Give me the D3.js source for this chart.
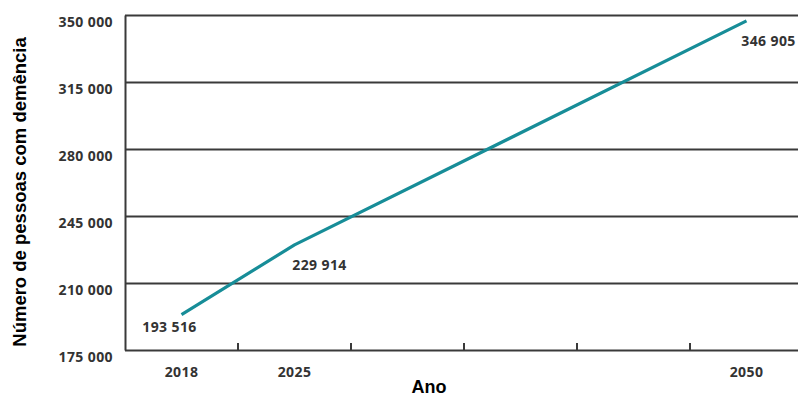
<!DOCTYPE html>
<html lang="pt">
<head>
<meta charset="utf-8">
<script src="https://cdn.jsdelivr.net/npm/d3@7"></script>
<style>
  html, body { margin: 0; padding: 0; background: #fff; }
  svg { display: block; }
  .tick-num { font-family: "Open Sans", sans-serif; font-weight: 700; font-size: 14px; letter-spacing: 0.4px; fill: #333; }
  .axis-title { font-family: "Liberation Sans", Arial, sans-serif; font-weight: 700; fill: #000; }
</style>
</head>
<body>
<svg id="chart" width="798" height="397"></svg>
<script>
// Projected number of people with dementia
const slots = ["2018", "2025", "", "", "", "2050"];   // x-axis slots; blank slots carry no label
const years = ["2018", "2025", "2050"];
const values = [193516, 229914, 346905];
const yTicks = [175000, 210000, 245000, 280000, 315000, 350000];

const W = 798, H = 397;
const margin = { top: 15, left: 125, bottom: 47 };
const plotRight = 803;          // last slot runs past the right edge
const svg = d3.select("#chart");

const fmt = d3.formatLocale({ decimal: ",", thousands: "\u202F", grouping: [3], currency: ["", ""] }).format(",");
const fmtNum = v => fmt(v).replace(/\u202F/g, " ");

const x = d3.scaleBand()
  .domain(d3.range(slots.length))
  .range([margin.left, plotRight])
  .paddingInner(0).paddingOuter(0);

const y = d3.scaleLinear()
  .domain([yTicks[0], yTicks[yTicks.length - 1]])
  .range([H - margin.bottom, margin.top]);

const gridColor = "#3a3a3a";

// horizontal gridlines (the lowest doubles as the x axis)
svg.append("g")
  .attr("transform", `translate(${margin.left},0)`)
  .call(d3.axisRight(y).tickValues(yTicks).tickSize(W - margin.left).tickFormat(""))
  .call(g => g.select(".domain").remove())
  .call(g => g.selectAll(".tick line").attr("stroke", gridColor).attr("stroke-width", 2));

// y axis line + labels
svg.append("g")
  .attr("transform", `translate(${margin.left},0)`)
  .call(d3.axisLeft(y).tickValues(yTicks).tickSize(0).tickPadding(12).tickFormat(fmtNum))
  .call(g => g.select(".domain").attr("stroke", gridColor).attr("stroke-width", 2))
  .call(g => g.selectAll(".tick text")
    .attr("class", "tick-num")
    .attr("dy", "0.8em")
    .attr("font-family", null).attr("font-size", null));

// x tick marks on the slot boundaries, pointing up into the plot
const xBottom = y(yTicks[0]);
svg.append("g")
  .selectAll("line")
  .data(d3.range(1, slots.length))
  .join("line")
  .attr("x1", d => x(d)).attr("x2", d => x(d))
  .attr("y1", xBottom).attr("y2", xBottom - 7)
  .attr("stroke", gridColor).attr("stroke-width", 2);

// x labels centred in their slots
svg.append("g")
  .attr("transform", `translate(0,${xBottom})`)
  .call(d3.axisBottom(x).tickSize(0).tickPadding(17).tickFormat(i => slots[i]))
  .call(g => g.select(".domain").remove())
  .call(g => g.selectAll(".tick text")
    .attr("class", "tick-num")
    .attr("font-family", null).attr("font-size", null));

// data line
const pts = years.map((yr, i) => ({ slot: slots.indexOf(yr), v: values[i] }));
const line = d3.line()
  .x(d => x(d.slot) + x.bandwidth() / 2)
  .y(d => y(d.v));

svg.append("path")
  .datum(pts)
  .attr("d", line)
  .attr("fill", "none")
  .attr("stroke", "#178d98")
  .attr("stroke-width", 3.2)
  .attr("stroke-linecap", "butt")
  .attr("stroke-linejoin", "round");

// value labels
const labelOffsets = [[-12, 14], [25, 21], [22, 21]];
svg.append("g")
  .selectAll("text")
  .data(pts)
  .join("text")
  .attr("class", "tick-num")
  .attr("text-anchor", "middle")
  .attr("dominant-baseline", "middle")
  .attr("x", (d, i) => x(d.slot) + x.bandwidth() / 2 + labelOffsets[i][0])
  .attr("y", (d, i) => y(d.v) + labelOffsets[i][1])
  .text(d => fmtNum(d.v));

// axis titles
svg.append("text")
  .attr("class", "axis-title")
  .attr("font-size", 18)
  .attr("text-anchor", "middle")
  .attr("x", 429).attr("y", 393)
  .text("Ano");

svg.append("text")
  .attr("class", "axis-title")
  .attr("font-size", 18.5)
  .attr("text-anchor", "middle")
  .attr("transform", "translate(26,192) rotate(-90)")
  .text("Número de pessoas com demência");
</script>
</body>
</html>
